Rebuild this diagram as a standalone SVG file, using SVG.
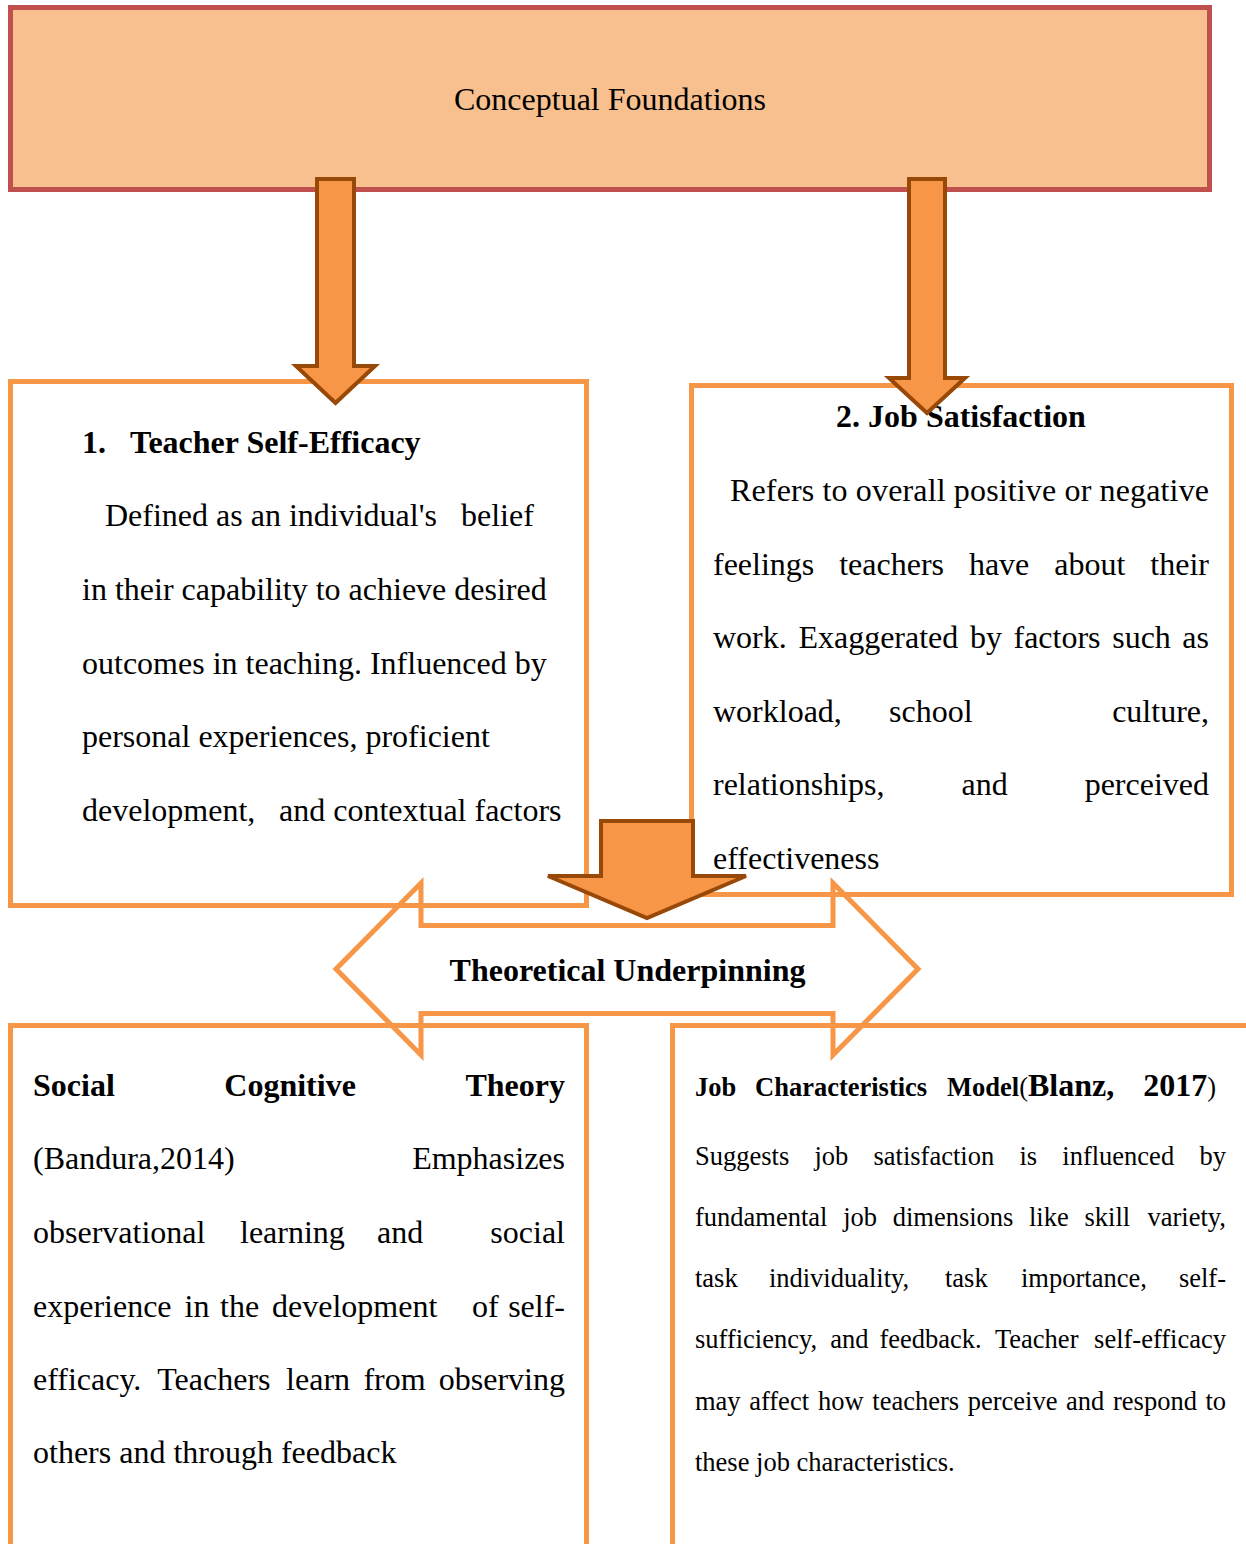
<svg xmlns="http://www.w3.org/2000/svg" width="1246" height="1544" viewBox="0 0 1246 1544">
<style>
.t{font-family:"Liberation Serif","Times New Roman",serif;font-size:32px;fill:#000}
.b{font-weight:bold}
.s{font-size:26.5px}
.box{fill:none;stroke:#F79646;stroke-width:5}
.arr{fill:#F79646;stroke:#984807;stroke-width:4;stroke-linejoin:miter}
</style>
<rect width="1246" height="1544" fill="#fff"/>

<g id="conceptual-foundations">
<rect x="10.5" y="7.5" width="1199" height="182" fill="#F8BF8F" stroke="#C0504D" stroke-width="5"/>
<text class="t" x="610" y="110" text-anchor="middle">Conceptual Foundations</text>
</g>

<g id="teacher-self-efficacy">
<rect class="box" x="10.5" y="381.5" width="576" height="524"/>
<text class="t b" x="82" y="453">1.</text>
<text class="t b" x="130" y="453">Teacher Self-Efficacy</text>
<text class="t" x="105" y="526">Defined as an individual's</text>
<text class="t" x="461" y="526">belief</text>
<text class="t" x="82" y="600">in their capability to achieve desired</text>
<text class="t" x="82" y="674">outcomes in teaching. Influenced by</text>
<text class="t" x="82" y="747">personal experiences, proficient</text>
<text class="t" x="82" y="821">development,</text>
<text class="t" x="279" y="821">and contextual factors</text>
</g>

<g id="job-satisfaction">
<rect class="box" x="691.5" y="385.5" width="540" height="509"/>
<text class="t b" x="961" y="427" text-anchor="middle">2. Job Satisfaction</text>
<text class="t" x="730" y="501" textLength="479" lengthAdjust="spacing">Refers to overall positive or negative</text>
<text class="t" y="575"><tspan x="713">feelings</tspan><tspan x="839.2">teachers</tspan><tspan x="968.9">have</tspan><tspan x="1054.2">about</tspan><tspan x="1209" text-anchor="end">their</tspan></text>
<text class="t" y="648"><tspan x="713">work.</tspan><tspan x="798.4">Exaggerated</tspan><tspan x="969.9">by</tspan><tspan x="1013.5">factors</tspan><tspan x="1112.2">such</tspan><tspan x="1209" text-anchor="end">as</tspan></text>
<text class="t" y="722"><tspan x="713">workload,</tspan><tspan x="889">school</tspan><tspan x="1209" text-anchor="end">culture,</tspan></text>
<text class="t" y="795"><tspan x="713">relationships,</tspan><tspan x="961.5">and</tspan><tspan x="1209" text-anchor="end">perceived</tspan></text>
<text class="t" x="713" y="869">effectiveness</text>
</g>

<g id="social-cognitive-theory">
<path class="box" d="M10.5,1560 V1025.5 H586.5 V1560"/>
<text class="t b" y="1096"><tspan x="33">Social</tspan><tspan x="224.3">Cognitive</tspan><tspan x="565" text-anchor="end">Theory</tspan></text>
<text class="t" y="1169"><tspan x="33">(Bandura,2014)</tspan><tspan x="565" text-anchor="end">Emphasizes</tspan></text>
<text class="t" y="1243"><tspan x="33">observational</tspan><tspan x="240">learning</tspan><tspan x="377">and</tspan><tspan x="565" text-anchor="end">social</tspan></text>
<text class="t" y="1317"><tspan x="33">experience</tspan><tspan x="184.6">in</tspan><tspan x="220">the</tspan><tspan x="272">development</tspan><tspan x="472">of</tspan><tspan x="565" text-anchor="end">self-</tspan></text>
<text class="t" y="1390"><tspan x="33">efficacy.</tspan><tspan x="157.3">Teachers</tspan><tspan x="286.1">learn</tspan><tspan x="363.4">from</tspan><tspan x="565" text-anchor="end">observing</tspan></text>
<text class="t" x="33" y="1463">others and through feedback</text>
</g>

<g id="job-characteristics-model">
<path class="box" d="M672.5,1560 V1025.5 H1260"/>
<text class="t" y="1096"><tspan class="b" font-size="26.5" x="695">Job</tspan><tspan class="b" font-size="26.5" x="755">Characteristics</tspan><tspan class="b" font-size="26.5" x="947">Model</tspan><tspan font-size="26.5">(</tspan><tspan class="b">Blanz,</tspan><tspan class="b" x="1216" text-anchor="end">2017</tspan><tspan font-size="26.5">)</tspan></text>
<text class="t s" y="1165"><tspan x="695">Suggests</tspan><tspan x="814.4">job</tspan><tspan x="873.5">satisfaction</tspan><tspan x="1019.4">is</tspan><tspan x="1062.3">influenced</tspan><tspan x="1226" text-anchor="end">by</tspan></text>
<text class="t s" y="1226"><tspan x="695">fundamental</tspan><tspan x="843.2">job</tspan><tspan x="892.7">dimensions</tspan><tspan x="1029">like</tspan><tspan x="1084.5">skill</tspan><tspan x="1226" text-anchor="end">variety,</tspan></text>
<text class="t s" y="1287"><tspan x="695">task</tspan><tspan x="768.9">individuality,</tspan><tspan x="945">task</tspan><tspan x="1021">importance,</tspan><tspan x="1226" text-anchor="end">self-</tspan></text>
<text class="t s" y="1348"><tspan x="695">sufficiency,</tspan><tspan x="830.3">and</tspan><tspan x="879.5">feedback.</tspan><tspan x="995">Teacher</tspan><tspan x="1226" text-anchor="end">self-efficacy</tspan></text>
<text class="t s" y="1410"><tspan x="695">may</tspan><tspan x="749.2">affect</tspan><tspan x="818.1">how</tspan><tspan x="872.3">teachers</tspan><tspan x="967.7">perceive</tspan><tspan x="1066.1">and</tspan><tspan x="1113">respond</tspan><tspan x="1226" text-anchor="end">to</tspan></text>
<text class="t s" x="695" y="1471">these job characteristics.</text>
</g>

<g id="theoretical-underpinning">
<path d="M336,969 L421,883 V925.5 H833 V883 L918,969 L833,1055 V1013.5 H421 V1055 Z" fill="none" stroke="#F79646" stroke-width="5" stroke-linejoin="miter"/>
<text class="t b" x="627.5" y="981" text-anchor="middle">Theoretical Underpinning</text>
</g>

<g id="connectors">
<path class="arr" d="M317,179 H354 V366 H375 L335.5,403 L296,366 H317 Z"/>
<path class="arr" d="M909,179 H945 V378 H965 L927,413 L889,378 H909 Z"/>
<path class="arr" d="M601,821 H693 V876 H746 L647,918 L548,876 H601 Z"/>
</g>
</svg>
